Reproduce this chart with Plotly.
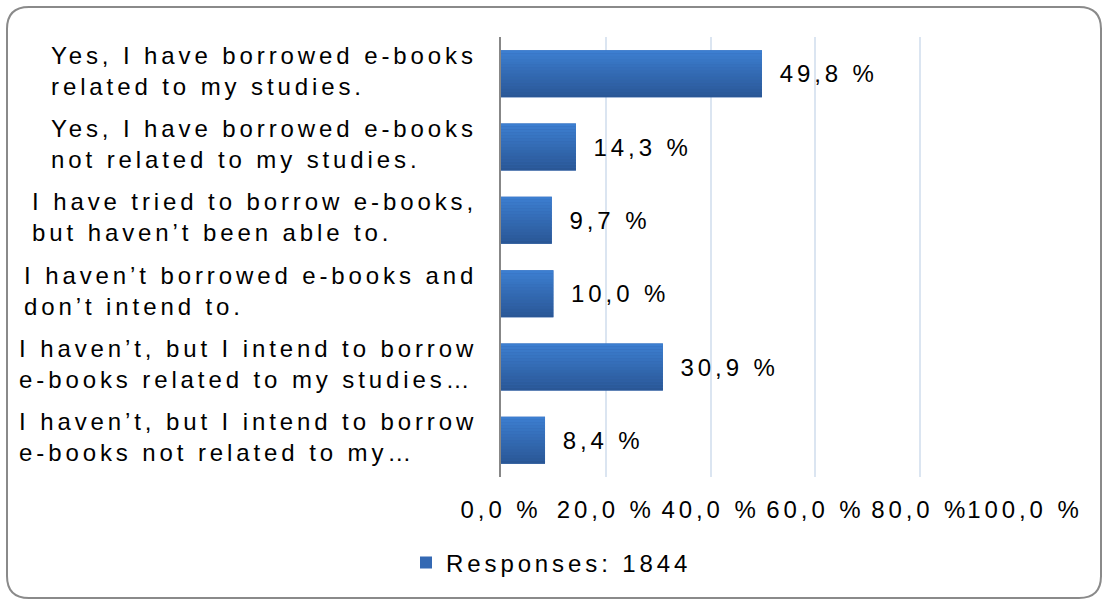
import plotly.graph_objects as go

# survey answers, top to bottom
answers = [
    "Yes, I have borrowed e-books<br>related to my studies.",
    "Yes, I have borrowed e-books<br>not related to my studies.",
    "I have tried to borrow e-books,<br>but haven’t been able to.",
    "I haven’t borrowed e-books and<br>don’t intend to.",
    "I haven’t, but I intend to borrow<br>e-books related to my studies…",
    "I haven’t, but I intend to borrow<br>e-books not related to my…",
]
shares = [49.8, 14.3, 9.7, 10.0, 30.9, 8.4]
series_name = "Responses: 1844"
tick_vals = [0, 20, 40, 60, 80, 100]
tick_text = ["0,0 %", "20,0 %", "40,0 %", "60,0 %", "80,0 %", "100,0 %"]

FONT = "Liberation Sans, Arial, sans-serif"
SP = 3.9  # letter spacing in px


def spaced(s):
    return "<br>".join('<span style="letter-spacing:%spx">%s</span>' % (SP, part)
                       for part in s.split("<br>"))


def mix(c1, c2, t):
    return "#%02x%02x%02x" % tuple(round(a + (b - a) * t) for a, b in zip(c1, c2))


top_col, bot_col = (0x3c, 0x7e, 0xd0), (0x2a, 0x57, 0x96)
BAR_W = 0.64
N_BANDS = 16

W, H = 1102, 599
L, R, T, B = 501, 1025, 37, 477

fig = go.Figure()
fig.add_trace(go.Bar(
    x=shares, y=answers, orientation="h", name=spaced(series_name),
    width=BAR_W, marker=dict(color="#3469b3", line=dict(width=0)),
    texttemplate='<span style="letter-spacing:8px"> </span>' + spaced("%{x:.1f} %"),
    textposition="outside", constraintext="none", cliponaxis=False,
    textfont=dict(family=FONT, size=24, color="#000000"),
))
for k in range(N_BANDS):
    fig.add_trace(go.Bar(
        x=shares, y=answers, orientation="h", showlegend=False, hoverinfo="skip",
        width=BAR_W / N_BANDS, offset=-BAR_W / 2 + k * BAR_W / N_BANDS,
        marker=dict(color=mix(top_col, bot_col, k / (N_BANDS - 1)), line=dict(width=0)),
    ))

for a in answers:
    fig.add_annotation(x=0, xref="paper", y=a, yref="y", text=spaced(a),
                       xanchor="right", xshift=-22, yshift=3, align="left", showarrow=False,
                       font=dict(family=FONT, size=24, color="#000000"))


def px(x, y):
    return "%.5f,%.5f" % ((x - L) / (R - L), (B - y) / (B - T))


# rounded frame around the whole chart
x0, y0, x1, y1, r = 7, 7, 1101, 598, 22
path = ("M" + px(x0 + r, y0) + " L" + px(x1 - r, y0) + " Q" + px(x1, y0) + " " + px(x1, y0 + r) +
        " L" + px(x1, y1 - r) + " Q" + px(x1, y1) + " " + px(x1 - r, y1) +
        " L" + px(x0 + r, y1) + " Q" + px(x0, y1) + " " + px(x0, y1 - r) +
        " L" + px(x0, y0 + r) + " Q" + px(x0, y0) + " " + px(x0 + r, y0) + " Z")
fig.add_shape(type="path", path=path, xref="paper", yref="paper",
              line=dict(color="#8a8a8a", width=2), layer="below")

fig.update_layout(
    width=W, height=H,
    margin=dict(l=L, r=W - R, t=T, b=H - B),
    paper_bgcolor="white", plot_bgcolor="white",
    barmode="overlay", separators=", ",
    font=dict(family=FONT, size=24, color="#000000"),
    showlegend=True,
    legend=dict(orientation="h", x=(406 - L) / (R - L), xanchor="left",
                y=(B - 563) / (B - T), yanchor="middle",
                font=dict(family=FONT, size=24, color="#000000"),
                bgcolor="rgba(0,0,0,0)"),
    xaxis=dict(range=[0, 100], tickvals=tick_vals, ticktext=[spaced(t) for t in tick_text],
               tickangle=0, automargin=False,
               showgrid=True, gridcolor="#dbe5f1", gridwidth=2, zeroline=False,
               showline=False, ticks="", ticklabelstandoff=16,
               tickfont=dict(family=FONT, size=24, color="#000000")),
    yaxis=dict(autorange="reversed", showticklabels=False, showgrid=False, automargin=False,
               showline=True, linecolor="#878787", linewidth=2, ticks=""),
)

# drop the browser's default 8px body margin so the figure fills the window
fig.write_html("out.html", config={"displayModeBar": False},
               post_script="document.body.style.margin = '0px';")
